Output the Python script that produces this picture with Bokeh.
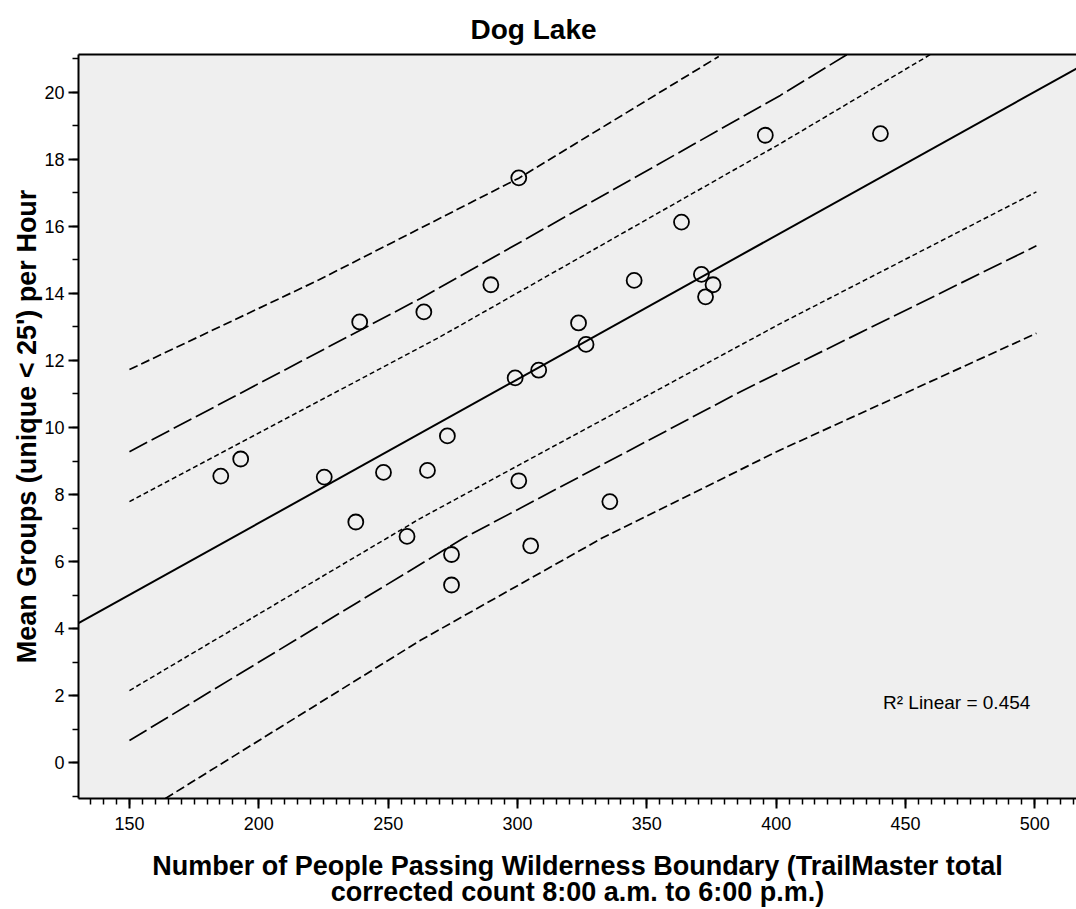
from bokeh.plotting import figure
from bokeh.models import Range1d, SingleIntervalTicker, LinearAxis, FixedTicker, Label
from bokeh.embed import file_html
from bokeh.resources import INLINE

# ---- data ----
people = [185.3, 193.0, 225.3, 237.5, 239.0, 248.2, 257.3, 263.8, 265.2, 272.9,
          274.5, 274.5, 289.7, 299.1, 300.5, 300.5, 305.1, 308.2, 323.6, 326.5,
          335.7, 345.1, 363.4, 371.1, 372.7, 375.6, 395.8, 440.3]
groups = [8.55, 9.06, 8.52, 7.18, 13.15, 8.66, 6.75, 13.45, 8.72, 9.75,
          6.21, 5.30, 14.26, 11.48, 17.45, 8.41, 6.47, 11.71, 13.12, 12.48,
          7.79, 14.39, 16.13, 14.57, 13.90, 14.26, 18.72, 18.77]

fit_x = [130.3, 516.1]
fit_y = [4.16, 20.71]

inner_up_x = [150, 270.2, 401.6, 459.6]
inner_up_y = [7.79, 12.71, 18.47, 21.13]
inner_lo_x = [150, 262.5, 401.6, 500.6]
inner_lo_y = [2.15, 7.29, 13.10, 17.03]

long_up_x = [150, 262.5, 401.6, 427.4]
long_up_y = [9.28, 13.85, 19.91, 21.13]
long_lo_x = [150, 279.2, 386.2, 500.6]
long_lo_y = [0.66, 6.70, 11.07, 15.42]

outer_up_x = [150, 223.1, 300.5, 377.8]
outer_up_y = [11.73, 14.40, 17.44, 21.07]
outer_lo_x = [163.9, 262.5, 332.7, 401.6, 500.6]
outer_lo_y = [-1.07, 3.65, 6.70, 9.33, 12.81]

title_text = "Dog Lake"
x_label_lines = ["Number of People Passing Wilderness Boundary (TrailMaster total",
                 "corrected count 8:00 a.m. to 6:00 p.m.)"]
y_label_text = "Mean Groups (unique < 25') per Hour"
r2_text = "R\u00b2 Linear = 0.454"
r2_pos = (441.3, 1.8)

FONT = "Liberation Sans"

p = figure(width=1076, height=909,
           x_range=Range1d(130.3, 516.1), y_range=Range1d(-1.07, 21.13),
           output_backend="svg", toolbar_location=None,
           min_border_left=78, min_border_right=0, min_border_top=54, min_border_bottom=110,
           background_fill_color="#efefef", border_fill_color="white")
p.outline_line_color = None
p.grid.visible = False

p.title.text = title_text
p.title.text_font = FONT
p.title.text_font_size = "28px"
p.title.text_font_style = "bold"
p.title.text_color = "black"
p.title.align = "left"
p.title.offset = 392
p.title.standoff = 20
p.title.text_line_height = 0.6

# axes
xa = p.xaxis[0]
xa.ticker = SingleIntervalTicker(interval=50, num_minor_ticks=10)
xa.axis_label = "\n".join(x_label_lines)
xa.axis_label_text_line_height = 0.87
ya = p.yaxis[0]
ya.ticker = SingleIntervalTicker(interval=2, num_minor_ticks=2)
ya.axis_label = y_label_text
for ax in (xa, ya):
    ax.axis_line_width = 2
    ax.axis_line_color = "black"
    ax.major_tick_line_width = 2
    ax.minor_tick_line_width = 1.5
    ax.major_tick_line_color = "black"
    ax.minor_tick_line_color = "black"
    ax.major_tick_out = 10
    ax.major_tick_in = 0
    ax.minor_tick_out = 6
    ax.minor_tick_in = 0
    ax.major_label_text_font = FONT
    ax.major_label_text_font_size = "18px"
    ax.major_label_text_color = "black"
    ax.axis_label_text_font = FONT
    ax.axis_label_text_font_size = "27px"
    ax.axis_label_text_font_style = "bold"
    ax.axis_label_text_color = "black"
xa.major_label_standoff = 8
xa.axis_label_standoff = 18
ya.major_label_standoff = 4
ya.axis_label_standoff = -1

top = LinearAxis(ticker=FixedTicker(ticks=[]), axis_line_width=2, axis_line_color="black",
                 major_label_text_font_size="0px", major_tick_line_color=None,
                 minor_tick_line_color=None, major_tick_out=0, minor_tick_out=0,
                 major_label_standoff=0, axis_label_standoff=0)
p.add_layout(top, "above")

# interval curves
p.line(outer_up_x, outer_up_y, line_color="black", line_width=1.7, line_dash="9 4")
p.line(outer_lo_x, outer_lo_y, line_color="black", line_width=1.7, line_dash="9 4")
p.line(long_up_x, long_up_y, line_color="black", line_width=1.7, line_dash="20 5")
p.line(long_lo_x, long_lo_y, line_color="black", line_width=1.7, line_dash="20 5")
p.line(inner_up_x, inner_up_y, line_color="black", line_width=1.5, line_dash="5 3")
p.line(inner_lo_x, inner_lo_y, line_color="black", line_width=1.5, line_dash="5 3")

# fit line
p.line(fit_x, fit_y, line_color="black", line_width=2)

# points
p.scatter(people, groups, marker="circle", size=15, fill_color=None,
          line_color="black", line_width=1.8)

p.add_layout(Label(x=r2_pos[0], y=r2_pos[1], text=r2_text, text_font=FONT,
                   text_font_size="19px", text_color="black", text_baseline="middle"))

open("out.html", "w").write(file_html(p, INLINE))
